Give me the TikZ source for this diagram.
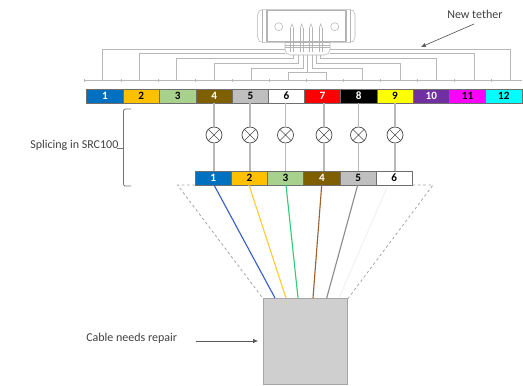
\documentclass[tikz,border=0pt]{standalone}
\usepackage{fontspec}
\setmainfont{Carlito}
\usetikzlibrary{arrows.meta}
\definecolor{wiregray}{HTML}{B8B8B8}
\definecolor{conn}{HTML}{B4B4B4}
\definecolor{labeltxt}{HTML}{404040}
\definecolor{cellline}{HTML}{6E6E6E}
\definecolor{c1}{HTML}{0070C0}
\definecolor{c2}{HTML}{FFC000}
\definecolor{c3}{HTML}{A9D18E}
\definecolor{c4}{HTML}{7F6000}
\definecolor{c5}{HTML}{BFBFBF}
\definecolor{c6}{HTML}{FFFFFF}
\definecolor{c7}{HTML}{FF0000}
\definecolor{c8}{HTML}{000000}
\definecolor{c9}{HTML}{FFFF00}
\definecolor{c10}{HTML}{7030A0}
\definecolor{c11}{HTML}{FF00FF}
\definecolor{c12}{HTML}{00FFFF}
\tikzset{
  x=0.75pt,y=-0.75pt,
  cellbox/.style={draw=cellline,line width=0.6pt,inner sep=0pt,outer sep=0pt,font=\fontsize{8.4}{9}\selectfont\bfseries},
  tline/.style={draw=wiregray,line width=0.6pt},
  cline/.style={draw=conn,line width=0.4pt},
  vline/.style={draw=wiregray,line width=0.9pt},
  lamp/.style={circle,draw=black!70,line width=0.55pt,fill=white,minimum size=12pt,inner sep=0pt,outer sep=0pt},
  lbl/.style={text=labeltxt,font=\fontsize{9}{10}\selectfont,inner sep=0pt},
  pointer/.style={draw=black!65,line width=0.5pt,-{Latex[length=3.6pt,width=3.4pt]}},
  fan/.style={draw=black!35,line width=0.6pt,dash pattern=on 2pt off 2pt},
  wire/.style={line width=0.85pt}
}
\begin{document}
\begin{tikzpicture}
\useasboundingbox (0,0) rectangle (523,385);
% top strip
\foreach \n/\xa/\xb/\tc in {1/86.7/123/white,2/123/159.5/black,3/159.5/196/black,4/196/232.5/white,5/232.5/268.5/black,6/268.5/304.5/black,7/304.5/340.5/white,8/340.5/377/white,9/377/413/black,10/413/449.5/white,11/449.5/485.5/black,12/485.5/522/black}{
  \pgfmathsetmacro\cx{(\xa+\xb)/2}
  \pgfmathsetmacro\cellw{(\xb-\xa)*0.75}
  \node[cellbox,fill=c\n,text=\tc,minimum width=\cellw pt,minimum height=10.5pt] (t\n) at (\cx,96) {\n};
}
% lower strip
\foreach \n/\xa/\xb/\tc in {1/195/231.5/white,2/231.5/267.5/black,3/267.5/303.5/black,4/303.5/340.5/white,5/340.5/376/black,6/376/412.5/black}{
  \pgfmathsetmacro\cx{(\xa+\xb)/2}
  \pgfmathsetmacro\cellw{(\xb-\xa)*0.75}
  \node[cellbox,fill=c\n,text=\tc,minimum width=\cellw pt,minimum height=10.5pt] (b\n) at (\cx,178) {\n};
}
% splice lamps and their fibres
\foreach \i/\x/\t in {1/214/4,2/250/5,3/285.5/6,4/324/7,5/358.5/8,6/395/9}{
  \node[lamp] (s\i) at (\x,135) {};
  \draw[vline] (s\i) -- (s\i |- t\t.south);
  \draw[vline] (s\i) -- (s\i |- b\i.north);
  \draw[black!70,line width=0.5pt] (s\i.north west) -- (s\i.south east) (s\i.north east) -- (s\i.south west);
}
% bracket
\coordinate (brtop) at (131,109);
\coordinate (brbot) at (131,186);
\coordinate (brtip) at (117,148);
\draw[draw=black!55,line width=0.6pt,rounded corners=1.5pt] (brtop) -- (123.5,109) -- (123.5,186) -- (brbot);
\draw[draw=black!55,line width=0.6pt] (brtip) -- (123.5,148);
\node[lbl,anchor=west] (splice) at (30,145) {Splicing in SRC100};
% cable
\node[draw=black!35,fill=black!19,line width=0.7pt,minimum width=63.4pt,minimum height=64pt,inner sep=0pt,outer sep=0pt] (cable) at (305.5,341.5) {};
\coordinate (fanl) at (177.5,185);
\coordinate (fanr) at (433,185);
\draw[fan] (b1.south west) -- (fanl) -- (cable.north west);
\draw[fan] (b6.south east) -- (fanr) -- (cable.north east);
\draw[wire,draw=white!95!black] (386.7,188) -- (339,298);
\coordinate (w1) at (275,298);\coordinate (w2) at (286,298);\coordinate (w3) at (298,298);\coordinate (w4) at (313,298);\coordinate (w5) at (326.7,298);
\draw[wire,draw={rgb,255:red,58;green,95;blue,205}] (214,185) -- (w1);
\draw[wire,draw={rgb,255:red,255;green,204;blue,51}] (249,185) -- (w2);
\draw[wire,draw={rgb,255:red,51;green,204;blue,119}] (286,185) -- (w3);
\draw[wire,draw={rgb,255:red,160;green,98;blue,45}] (321.7,185) -- (w4);
\draw[wire,draw={rgb,255:red,140;green,140;blue,140}] (357.7,185) -- (w5);
\node[lbl,anchor=west] (repair) at (86,338) {Cable needs repair};
\coordinate (repairtail) at (196,341);
\coordinate (repairhead) at (258,341);
\draw[pointer] (repairtail) -- (repairhead);
% tether
\node[lbl,anchor=west] (newt) at (447,14) {New tether};
\coordinate (newtail) at (474,24);
\coordinate (newhead) at (421,47);
\draw[pointer] (newtail) -- (newhead);
\draw[tline] (84,80) -- (522,80);
\foreach \x in {84,121,158,195,232,269,306,343,380,417,454,491}{
  \draw[tline,line width=0.4pt] (\x,79) -- (\x,81.5);
}
\draw[tline] (102.3,80) |- (285,49);
\draw[tline] (139.3,80) |- (285,53.7);
\draw[tline] (176.5,80) |- (293,58.7) -- (293,55);
\draw[tline] (214,80) |- (298,63.3) -- (298,55);
\draw[tline] (251,80) |- (303,68) -- (303,55);
\draw[tline] (288.3,80) |- (326,72.5) -- (326,80);
\draw[tline] (307,72.5) -- (307,55);
\draw[tline] (362.3,80) |- (312,68) -- (312,55);
\draw[tline] (400,80) |- (316,63.3) -- (316,55);
\draw[tline] (436.7,80) |- (320,58.7) -- (320,55);
\draw[tline] (474,80) |- (330,53.7);
\draw[tline] (510.7,80) |- (330,49);
% connector
\draw[cline,rounded corners=4pt] (257.7,9.3) rectangle (355,42.7);
\draw[cline] (266.7,10.5) -- (345.5,10.5) (266.7,41.5) -- (345.5,41.5);
\foreach \x in {262,266,267.5,345,346.5,350}{\draw[cline] (\x,9.8) -- (\x,42.2);}
\draw[cline] (278.7,26.7) circle (4);
\draw[cline] (334.7,26.7) circle (4);
\draw[cline,rounded corners=4pt,fill=white] (285,42.7) -- (285,55) -- (330,55) -- (330,42.7);
\foreach \y in {42.7,45,47}{\draw[cline] (285,\y) -- (330,\y);}
\foreach \x in {292,301.7,311,320.7}{
  \draw[cline] (\x-1.5,28) -- (\x-1.5,52) (\x+1.5,28) -- (\x+1.5,52);
  \draw[cline] (\x-1.5,28) -- (\x,24) -- (\x+1.5,28);
}
\end{tikzpicture}
\end{document}
